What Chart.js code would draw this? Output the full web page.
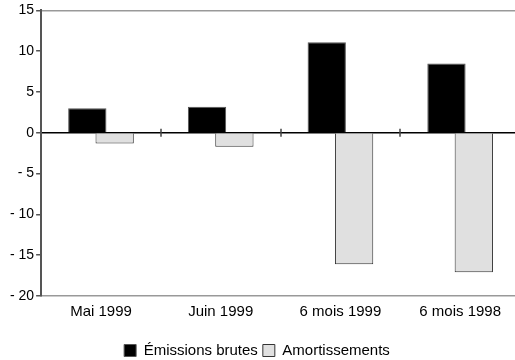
<!DOCTYPE html>
<html>
<head>
<meta charset="utf-8">
<script src="https://cdn.jsdelivr.net/npm/chart.js@4/dist/chart.umd.min.js"></script>
<style>
  body { margin: 0; background: #fff; overflow: hidden; }
</style>
</head>
<body>
<canvas id="graficoBarras" width="520" height="360"></canvas>
<script>
/* Données */
var categories = ['Mai 1999', 'Juin 1999', '6 mois 1999', '6 mois 1998'];
var emissions = [3.0, 3.2, 11.1, 8.5];
var amortissements = [-1.3, -1.7, -16.1, -17.1];
var graduations = [15, 10, 5, 0, -5, -10, -15, -20];

Chart.defaults.font.family = "'Liberation Sans', Arial, sans-serif";
Chart.defaults.font.size = 14;
Chart.defaults.color = '#000';

/* Petits traits verticaux sur la ligne du zéro, entre les catégories */
var traitsZero = {
    id: 'traitsZero',
    beforeDatasetsDraw: function (chart) {
        var x = chart.scales.x, y = chart.scales.y;
        var y0 = y.getPixelForValue(0);
        var ctx = chart.ctx;
        ctx.save();
        ctx.strokeStyle = '#444';
        ctx.lineWidth = 1.5;
        for (var i = 0; i < categories.length - 1; i++) {
            var px = Math.round((x.getPixelForTick(i) + x.getPixelForTick(i + 1)) / 2);
            ctx.beginPath();
            ctx.moveTo(px, y0 - 4);
            ctx.lineTo(px, y0 + 4);
            ctx.stroke();
        }
        ctx.restore();
    }
};

/* Décale un peu la légende vers la gauche (le canevas déborde à droite) */
var decalageLegende = {
    id: 'decalageLegende',
    afterLayout: function (chart) {
        chart.legend.left -= 7;
        chart.legend.right -= 7;
    }
};

new Chart(document.getElementById('graficoBarras'), {
    type: 'bar',
    data: {
        labels: categories,
        datasets: [{
            label: 'Émissions brutes',
            data: emissions,
            backgroundColor: '#000',
            borderColor: '#555',
            borderWidth: 1,
            categoryPercentage: 0.457,
            barPercentage: 1.4
        }, {
            label: 'Amortissements',
            data: amortissements,
            backgroundColor: '#e0e0e0',
            borderColor: '#333',
            borderWidth: 1,
            categoryPercentage: 0.457,
            barPercentage: 1.4
        }]
    },
    options: {
        responsive: false,
        animation: false,
        layout: { padding: { left: 8, top: 9, right: 0, bottom: -8 } },
        plugins: {
            tooltip: { enabled: false },
            legend: {
                position: 'bottom',
                labels: {
                    boxWidth: 12,
                    boxHeight: 12,
                    padding: 5,
                    color: '#000',
                    font: { size: 15 }
                }
            }
        },
        scales: {
            x: {
                grid: { display: false, drawTicks: false },
                border: { display: true, color: '#999', width: 1.5 },
                ticks: { padding: 7, color: '#000', font: { size: 15 } },
                afterFit: function (axis) { axis.height += 10; }
            },
            y: {
                min: -20,
                max: 15,
                afterBuildTicks: function (axis) {
                    axis.ticks = graduations.map(function (v) { return { value: v }; });
                },
                grid: {
                    tickLength: 5,
                    tickColor: '#555',
                    lineWidth: 1.5,
                    color: function (c) {
                        if (!c.tick) return 'rgba(0,0,0,0)';
                        if (c.tick.value === 0) return '#000';
                        if (c.tick.value === 15) return '#999';
                        return 'rgba(0,0,0,0)';
                    }
                },
                border: { display: true, color: '#555', width: 2 },
                ticks: {
                    padding: 2,
                    color: '#000',
                    callback: function (v) {
                        return v < 0 ? '- ' + Math.abs(v) : String(v);
                    }
                }
            }
        }
    },
    plugins: [traitsZero, decalageLegende]
});
</script>
</body>
</html>
